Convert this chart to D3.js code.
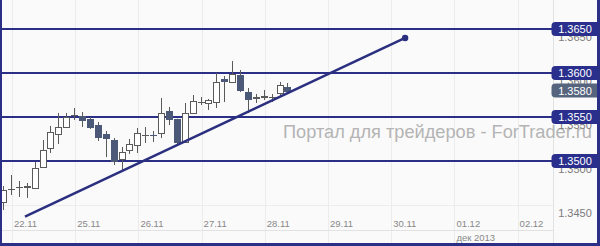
<!DOCTYPE html>
<html><head><meta charset="utf-8">
<script src="https://cdn.jsdelivr.net/npm/d3@7"></script>
<style>body{margin:0;background:#fff}svg{display:block}</style></head>
<body>
<svg id="c" width="600" height="246"></svg>
<script>
// ---- data ----
const opens  = [1.34534,1.34682,1.34705,1.34710,1.34693,1.34932,1.35148,1.35307,1.35386,1.35523,1.35511,1.35477,1.35409,1.35307,1.35239,1.35023,1.35125,1.35182,1.35295,1.35295,1.35318,1.35568,1.35477,1.35216,1.35545,1.35670,1.35659,1.35670,1.35932,1.35898,1.35977,1.35784,1.35716,1.35727,1.35727,1.35773,1.35841];
const highs  = [1.34716,1.34841,1.34773,1.34750,1.34989,1.35239,1.35398,1.35545,1.35545,1.35602,1.35557,1.35500,1.35443,1.35341,1.35261,1.35159,1.35250,1.35375,1.35386,1.35341,1.35716,1.35614,1.35480,1.35659,1.35750,1.35727,1.35705,1.36000,1.35966,1.36136,1.36034,1.35830,1.35761,1.35807,1.35761,1.35898,1.35886];
const lows   = [1.34443,1.34614,1.34591,1.34580,1.34682,1.34920,1.35091,1.35193,1.35375,1.35466,1.35386,1.35364,1.35227,1.35045,1.34955,1.34875,1.35080,1.35091,1.35205,1.35216,1.35261,1.35409,1.35193,1.35205,1.35534,1.35636,1.35580,1.35602,1.35670,1.35886,1.35784,1.35545,1.35659,1.35693,1.35670,1.35727,1.35773];
const closes = [1.34670,1.34685,1.34708,1.34716,1.34920,1.35125,1.35330,1.35386,1.35500,1.35525,1.35466,1.35386,1.35273,1.35261,1.35000,1.35102,1.35193,1.35318,1.35298,1.35292,1.35545,1.35477,1.35216,1.35545,1.35682,1.35673,1.35693,1.35898,1.35909,1.35990,1.35807,1.35705,1.35727,1.35739,1.35730,1.35864,1.35795];
const priceTicks = [1.3450,1.3500,1.3550,1.3600,1.3650];
const levels = [1.3650,1.3600,1.3550,1.3500];
const dateLabels = ["22.11","25.11","26.11","27.11","28.11","29.11","30.11","01.12","02.12"];
const monthLabel = "дек 2013";
const trendSlots = [2.78, 50.9];
const trendPrices = [1.34369, 1.36398];
const watermark = "Портал для трейдеров - ForTrader.ru";

// ---- layout ----
const svg = d3.select('#c');
const navy = '#2b2f86';
const plotR = 553, axisY = 230;
const x = d3.scaleLinear().domain([0, 68]).range([3, 540.2]);
const y = d3.scaleLinear().domain([1.3450, 1.3650]).range([205, 29]);
const fmt = d3.format('.4f');
const slotsPerDay = 8, firstDaySlot = 1.14;

svg.append('rect').attr('width',600).attr('height',246).attr('fill','#fafafa');

// grid
const g = svg.append('g');
g.selectAll('.hg').data(priceTicks).join('line')
  .attr('x1',2).attr('x2',plotR).attr('y1',d=>Math.round(y(d))+0.5).attr('y2',d=>Math.round(y(d))+0.5)
  .attr('stroke','#ececec');
g.selectAll('.vg').data(dateLabels).join('line')
  .attr('x1',(d,i)=>Math.round(x(firstDaySlot+i*slotsPerDay))+0.5)
  .attr('x2',(d,i)=>Math.round(x(firstDaySlot+i*slotsPerDay))+0.5)
  .attr('y1',0).attr('y2',243).attr('stroke','#ececec');
svg.append('line').attr('x1',2).attr('x2',plotR).attr('y1',axisY+0.5).attr('y2',axisY+0.5).attr('stroke','#e2e2e2');
svg.append('line').attr('x1',plotR+0.5).attr('x2',plotR+0.5).attr('y1',0).attr('y2',243).attr('stroke','#e2e2e2');

// watermark
svg.append('text').text(watermark).attr('x',283).attr('y',138)
  .attr('font-family','Liberation Sans, Arial, sans-serif').attr('font-size',18)
  .attr('textLength',309).attr('lengthAdjust','spacingAndGlyphs')
  .attr('fill','#b4b4b4');

// price tick labels (mostly hidden under the level boxes, as in the original)
svg.selectAll('.pt').data(priceTicks).join('text')
  .text(d=>fmt(d)).attr('x',575).attr('y',d=>y(d)+12)
  .attr('text-anchor','middle').attr('font-family','Liberation Sans, Arial, sans-serif')
  .attr('font-size',11).attr('fill','#7a7a7a');

// date labels
svg.selectAll('.dl').data(dateLabels).join('text')
  .text(d=>d).attr('x',(d,i)=>x(firstDaySlot+i*slotsPerDay)+2).attr('y',227)
  .attr('font-family','Liberation Sans, Arial, sans-serif').attr('font-size',9.5).attr('fill','#888');
svg.append('text').text(monthLabel).attr('x',x(firstDaySlot+7*slotsPerDay)+2).attr('y',241)
  .attr('font-family','Liberation Sans, Arial, sans-serif').attr('font-size',9.5).attr('fill','#888');

// level lines
svg.selectAll('.lv').data(levels).join('line')
  .attr('x1',2).attr('x2',556).attr('y1',d=>y(d)).attr('y2',d=>y(d))
  .attr('stroke',navy).attr('stroke-width',2);

// candles
const idx = d3.range(opens.length);
const cg = svg.append('g');
cg.selectAll('.wk').data(idx).join('line')
  .attr('x1',i=>Math.round(x(i))+0.5).attr('x2',i=>Math.round(x(i))+0.5)
  .attr('y1',i=>y(highs[i])).attr('y2',i=>y(lows[i]))
  .attr('stroke','#5a5a5a');
cg.selectAll('.bd').data(idx).join('rect')
  .attr('x',i=>Math.round(x(i))-2.5).attr('width',6)
  .attr('y',i=>Math.round(y(Math.max(opens[i],closes[i])))+0.5)
  .attr('height',i=>Math.max(0.01, Math.round(Math.abs(y(opens[i])-y(closes[i])))))
  .attr('fill',i=>closes[i]>=opens[i]?'#ffffff':'#4b5877')
  .attr('stroke',i=>closes[i]>=opens[i]?'#5a5a5a':'#4b5877');

// trend line
svg.append('line')
  .attr('x1',x(trendSlots[0])).attr('y1',y(trendPrices[0]))
  .attr('x2',x(trendSlots[1])).attr('y2',y(trendPrices[1]))
  .attr('stroke','#2b2f7f').attr('stroke-width',2.5);
svg.append('circle').attr('cx',x(trendSlots[1])).attr('cy',y(trendPrices[1])).attr('r',3.2).attr('fill','#2b2f7f');

// label boxes
function box(val, fill){
  const cy = y(val);
  const x0 = 551.5, x1 = 600, h = 7, r = 4;
  svg.append('path').attr('d',
    `M${x0+r},${cy-h}H${x1}V${cy+h}H${x0+r}Q${x0},${cy+h} ${x0},${cy+h-r}V${cy-h+r}Q${x0},${cy-h} ${x0+r},${cy-h}Z`)
    .attr('fill',fill);
  svg.append('text').text(fmt(val)).attr('x',575).attr('y',cy+4)
    .attr('text-anchor','middle').attr('font-family','Liberation Sans, Arial, sans-serif')
    .attr('font-size',11).attr('fill','#fff');
}
levels.forEach(v=>box(v,'#2a2f8e'));
box(+closes[closes.length-1].toFixed(3), '#56647e');

// frame
svg.append('rect').attr('x',0).attr('y',0).attr('width',2).attr('height',246).attr('fill',navy);
svg.append('rect').attr('x',0).attr('y',243).attr('width',600).attr('height',3).attr('fill',navy);
svg.append('rect').attr('x',597).attr('y',0).attr('width',3).attr('height',246).attr('fill',navy);
</script>
</body></html>
